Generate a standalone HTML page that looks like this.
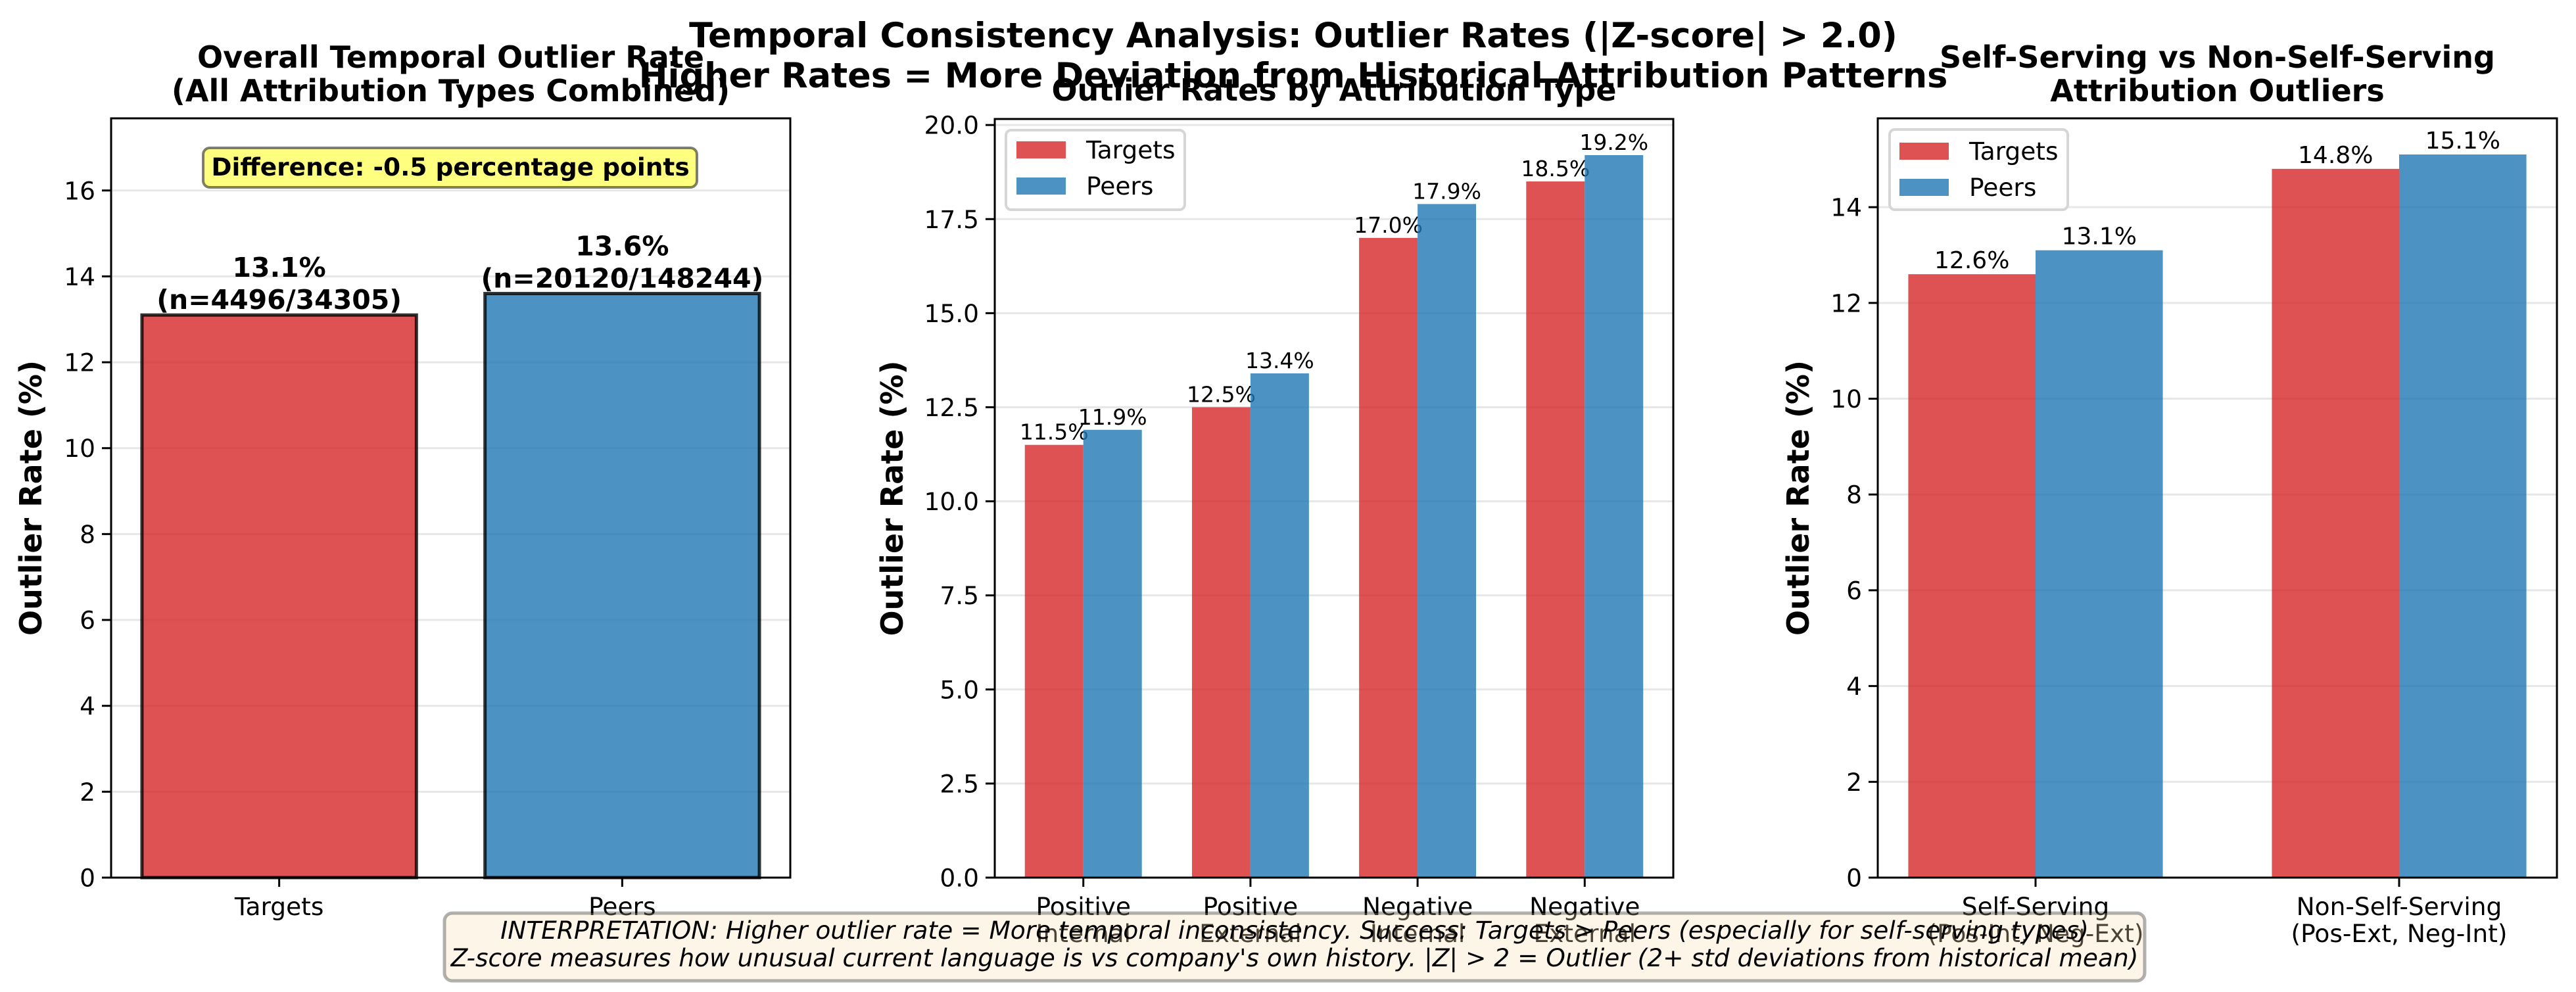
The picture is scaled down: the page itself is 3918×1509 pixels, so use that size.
<!DOCTYPE html>
<html><head><meta charset="utf-8"><style>
html,body{margin:0;padding:0;background:#fff}
svg{display:block;font-family:"DejaVu Sans","Liberation Sans",sans-serif}
</style></head><body>
<svg id="fig" width="3918" height="1509" viewBox="0 0 3918 1509" xmlns="http://www.w3.org/2000/svg">
<rect width="3918" height="1509" fill="#fff"/>
<g id="p1"></g>
<g id="p2"></g>
<g id="p3"></g>
<text x="1967" y="72" text-anchor="middle" font-size="52.5" font-weight="bold">Temporal Consistency Analysis: Outlier Rates (|Z-score| &gt; 2.0)</text>
<text x="1967" y="133" text-anchor="middle" font-size="52.5" font-weight="bold">Higher Rates = More Deviation from Historical Attribution Patterns</text>
<g id="interp">
<rect x="676" y="1389" width="2586" height="103" rx="12" fill="rgb(245,222,179)" fill-opacity="0.3" stroke="#000" stroke-opacity="0.3" stroke-width="5"/>
<text x="1969" y="1428" text-anchor="middle" font-size="37.5" font-style="italic">INTERPRETATION: Higher outlier rate = More temporal inconsistency. Success: Targets &gt; Peers (especially for self-serving types)</text>
<text x="1969" y="1470" text-anchor="middle" font-size="37.5" font-style="italic">Z-score measures how unusual current language is vs company's own history. |Z| &gt; 2 = Outlier (2+ std deviations from historical mean)</text>
</g>
</svg>
<script>
// ---- Panel 1 data ----
const p1Categories = ["Targets", "Peers"];
const p1Values = [13.1, 13.6];
const p1Counts = ["(n=4496/34305)", "(n=20120/148244)"];
const p1Ticks = [0, 2, 4, 6, 8, 10, 12, 14, 16];
// ---- Panel 2 data ----
const p2Categories = [["Positive","Internal"],["Positive","External"],["Negative","Internal"],["Negative","External"]];
const p2Targets = [11.5, 12.5, 17.0, 18.5];
const p2Peers = [11.9, 13.4, 17.9, 19.2];
const p2Ticks = [0, 2.5, 5, 7.5, 10, 12.5, 15, 17.5, 20];
// ---- Panel 3 data ----
const p3Categories = [["Self-Serving","(Pos-Int, Neg-Ext)"],["Non-Self-Serving","(Pos-Ext, Neg-Int)"]];
const p3Targets = [12.6, 14.8];
const p3Peers = [13.1, 15.1];
const p3Ticks = [0, 2, 4, 6, 8, 10, 12, 14];

const NS = "http://www.w3.org/2000/svg";
const RED = "#d62728", BLUE = "#1f77b4";
function el(parent, tag, attrs, text) {
  const e = document.createElementNS(NS, tag);
  for (const k in attrs) e.setAttribute(k, attrs[k]);
  if (text !== undefined) e.textContent = text;
  parent.appendChild(e);
  return e;
}
function makeAxes(g, box, xlim, ylim, ticks, tickFmt, xTickPos, xLabels, title, ylabelX) {
  const sx = v => box.l + (v - xlim[0]) / (xlim[1] - xlim[0]) * (box.r - box.l);
  const sy = v => box.b - (v - ylim[0]) / (ylim[1] - ylim[0]) * (box.b - box.t);
  const grid = el(g, "g", {});
  
  
  ticks.forEach(t => {
    const y = sy(t);
    const ln = el(grid, "line", {x1: box.l, x2: box.r, y1: y, y2: y, stroke: "#b0b0b0", "stroke-opacity": 0.3, "stroke-width": 3});
    
    
  });
  const yt = el(g, "g", {});
  
  
  ticks.forEach(t => {
    const y = sy(t);
    el(yt, "line", {x1: box.l - 14, x2: box.l, y1: y, y2: y, stroke: "#000", "stroke-width": 3});
    const tx = el(yt, "text", {x: box.l - 24, y: y + 13.5, "text-anchor": "end", "font-size": 37.5}, tickFmt(t));
    
    
  });
  const xt = el(g, "g", {});
  
  
  xTickPos.forEach((p, i) => {
    const x = sx(p);
    el(xt, "line", {x1: x, x2: x, y1: box.b, y2: box.b + 14, stroke: "#000", "stroke-width": 3});
    const lines = Array.isArray(xLabels[i]) ? xLabels[i] : [xLabels[i]];
    lines.forEach((s, j) => {
      const tx = el(xt, "text", {x: x, y: 1392 + j * 41, "text-anchor": "middle", "font-size": 37.5}, s);
      
      
    });
  });
  const tl = Array.isArray(title) ? title : [title];
  tl.forEach((s, j) => {
    const base = tl.length === 1 ? 153 : 103 + j * 51;
    const tx = el(g, "text", {x: (box.l + box.r) / 2, y: base, "text-anchor": "middle", "font-size": 46, "font-weight": "bold"}, s);
    
    
  });
  const yl = el(g, "text", {x: ylabelX, y: (box.t + box.b) / 2, "text-anchor": "middle", "font-size": 46, "font-weight": "bold", transform: `rotate(-90 ${ylabelX} ${(box.t + box.b) / 2})`, dy: 16}, "Outlier Rate (%)");
  
  
  return {sx, sy};
}
function spines(g, box) {
  const r = el(g, "rect", {x: box.l, y: box.t, width: box.r - box.l, height: box.b - box.t, fill: "none", stroke: "#000", "stroke-width": 3});
  
  
}
function legend(g, bx, by, bw, bh, patchX, textX, base) {
  const lg = el(g, "g", {});
  
  
  el(lg, "rect", {x: bx, y: by, width: bw, height: bh, rx: 8, fill: "#fff", "fill-opacity": 0.8, stroke: "#d6d6d6", "stroke-width": 4});
  [["Targets", RED], ["Peers", BLUE]].forEach((d, i) => {
    const it = el(lg, "g", {});
    
    
    el(it, "rect", {x: patchX, y: base + i * 55 - 26, width: 75, height: 26, fill: d[1], "fill-opacity": 0.8});
    el(it, "text", {x: textX, y: base + i * 55, "font-size": 37.5}, d[0]);
  });
}

// ---- Panel 1 ----
(function(){
  const g = document.getElementById("p1");
  const box = {l: 169, r: 1202, t: 180, b: 1335};
  const ymax = Math.max(...p1Values) * 1.3;
  const ax = makeAxes(g, box, [-0.49, 1.49], [0, ymax], p1Ticks, t => String(t), p1Categories.map((c, i) => i), p1Categories,
    ["Overall Temporal Outlier Rate", "(All Attribution Types Combined)"], 47);
  const colors = [RED, BLUE];
  p1Values.forEach((v, i) => {
    const x0 = ax.sx(i - 0.4), x1 = ax.sx(i + 0.4), y = ax.sy(v);
    const b = el(g, "rect", {x: x0, y: y, width: x1 - x0, height: box.b - y, fill: colors[i], "fill-opacity": 0.8, stroke: "#000", "stroke-opacity": 0.8, "stroke-width": 5});
    
    
    const t1 = el(g, "text", {x: ax.sx(i), y: y - 58, "text-anchor": "middle", "font-size": 41, "font-weight": "bold"}, v.toFixed(1) + "%");
    
    
    const t2 = el(g, "text", {x: ax.sx(i), y: y - 9, "text-anchor": "middle", "font-size": 41, "font-weight": "bold"}, p1Counts[i]);
    
    
  });
  spines(g, box);
  const diff = (p1Values[0] - p1Values[1]).toFixed(1);
  const db = el(g, "g", {});
  
  
  el(db, "rect", {x: 309, y: 225, width: 751, height: 60, rx: 10, fill: "#ffff00", "fill-opacity": 0.5, stroke: "#000", "stroke-opacity": 0.5, "stroke-width": 4});
  el(db, "text", {x: 685, y: 267, "text-anchor": "middle", "font-size": 37.5, "font-weight": "bold"}, "Difference: " + diff + " percentage points");
})();

// ---- Panel 2 ----
(function(){
  const g = document.getElementById("p2");
  const box = {l: 1513, r: 2545, t: 181, b: 1335};
  const ymax = Math.max(...p2Targets, ...p2Peers) * 1.05;
  const ax = makeAxes(g, box, [-0.53, 3.53], [0, ymax], p2Ticks, t => t.toFixed(1), p2Categories.map((c, i) => i), p2Categories,
    "Outlier Rates by Attribution Type", 1357);
  const w = 0.35;
  [[p2Targets, RED, -1, "targets"], [p2Peers, BLUE, 0, "peers"]].forEach(s => {
    s[0].forEach((v, i) => {
      const x0 = ax.sx(i + s[2] * w), x1 = ax.sx(i + (s[2] + 1) * w), y = ax.sy(v);
      const b = el(g, "rect", {x: x0, y: y, width: x1 - x0, height: box.b - y, fill: s[1], "fill-opacity": 0.8});
      
      
      const t = el(g, "text", {x: (x0 + x1) / 2, y: y - 8, "text-anchor": "middle", "font-size": 33}, v.toFixed(1) + "%");
      
      
    });
  });
  spines(g, box);
  legend(g, 1530, 198, 272, 121, 1546, 1652, 241);
})();

// ---- Panel 3 ----
(function(){
  const g = document.getElementById("p3");
  const box = {l: 2856, r: 3889, t: 180, b: 1335};
  const ymax = Math.max(...p3Targets, ...p3Peers) * 1.05;
  const ax = makeAxes(g, box, [-0.434, 1.434], [0, ymax], p3Ticks, t => String(t), p3Categories.map((c, i) => i), p3Categories,
    ["Self-Serving vs Non-Self-Serving", "Attribution Outliers"], 2735);
  const w = 0.35;
  [[p3Targets, RED, -1, "targets"], [p3Peers, BLUE, 0, "peers"]].forEach(s => {
    s[0].forEach((v, i) => {
      const x0 = ax.sx(i + s[2] * w), x1 = ax.sx(i + (s[2] + 1) * w), y = ax.sy(v);
      const b = el(g, "rect", {x: x0, y: y, width: x1 - x0, height: box.b - y, fill: s[1], "fill-opacity": 0.8});
      
      
      const t = el(g, "text", {x: (x0 + x1) / 2, y: y - 9, "text-anchor": "middle", "font-size": 36}, v.toFixed(1) + "%");
      
      
    });
  });
  spines(g, box);
  legend(g, 2874, 197, 271, 122, 2889, 2995, 243);
})();
// interpretation box on top
const fig = document.getElementById("fig");
fig.appendChild(document.getElementById("interp"));
</script>
</body></html>
